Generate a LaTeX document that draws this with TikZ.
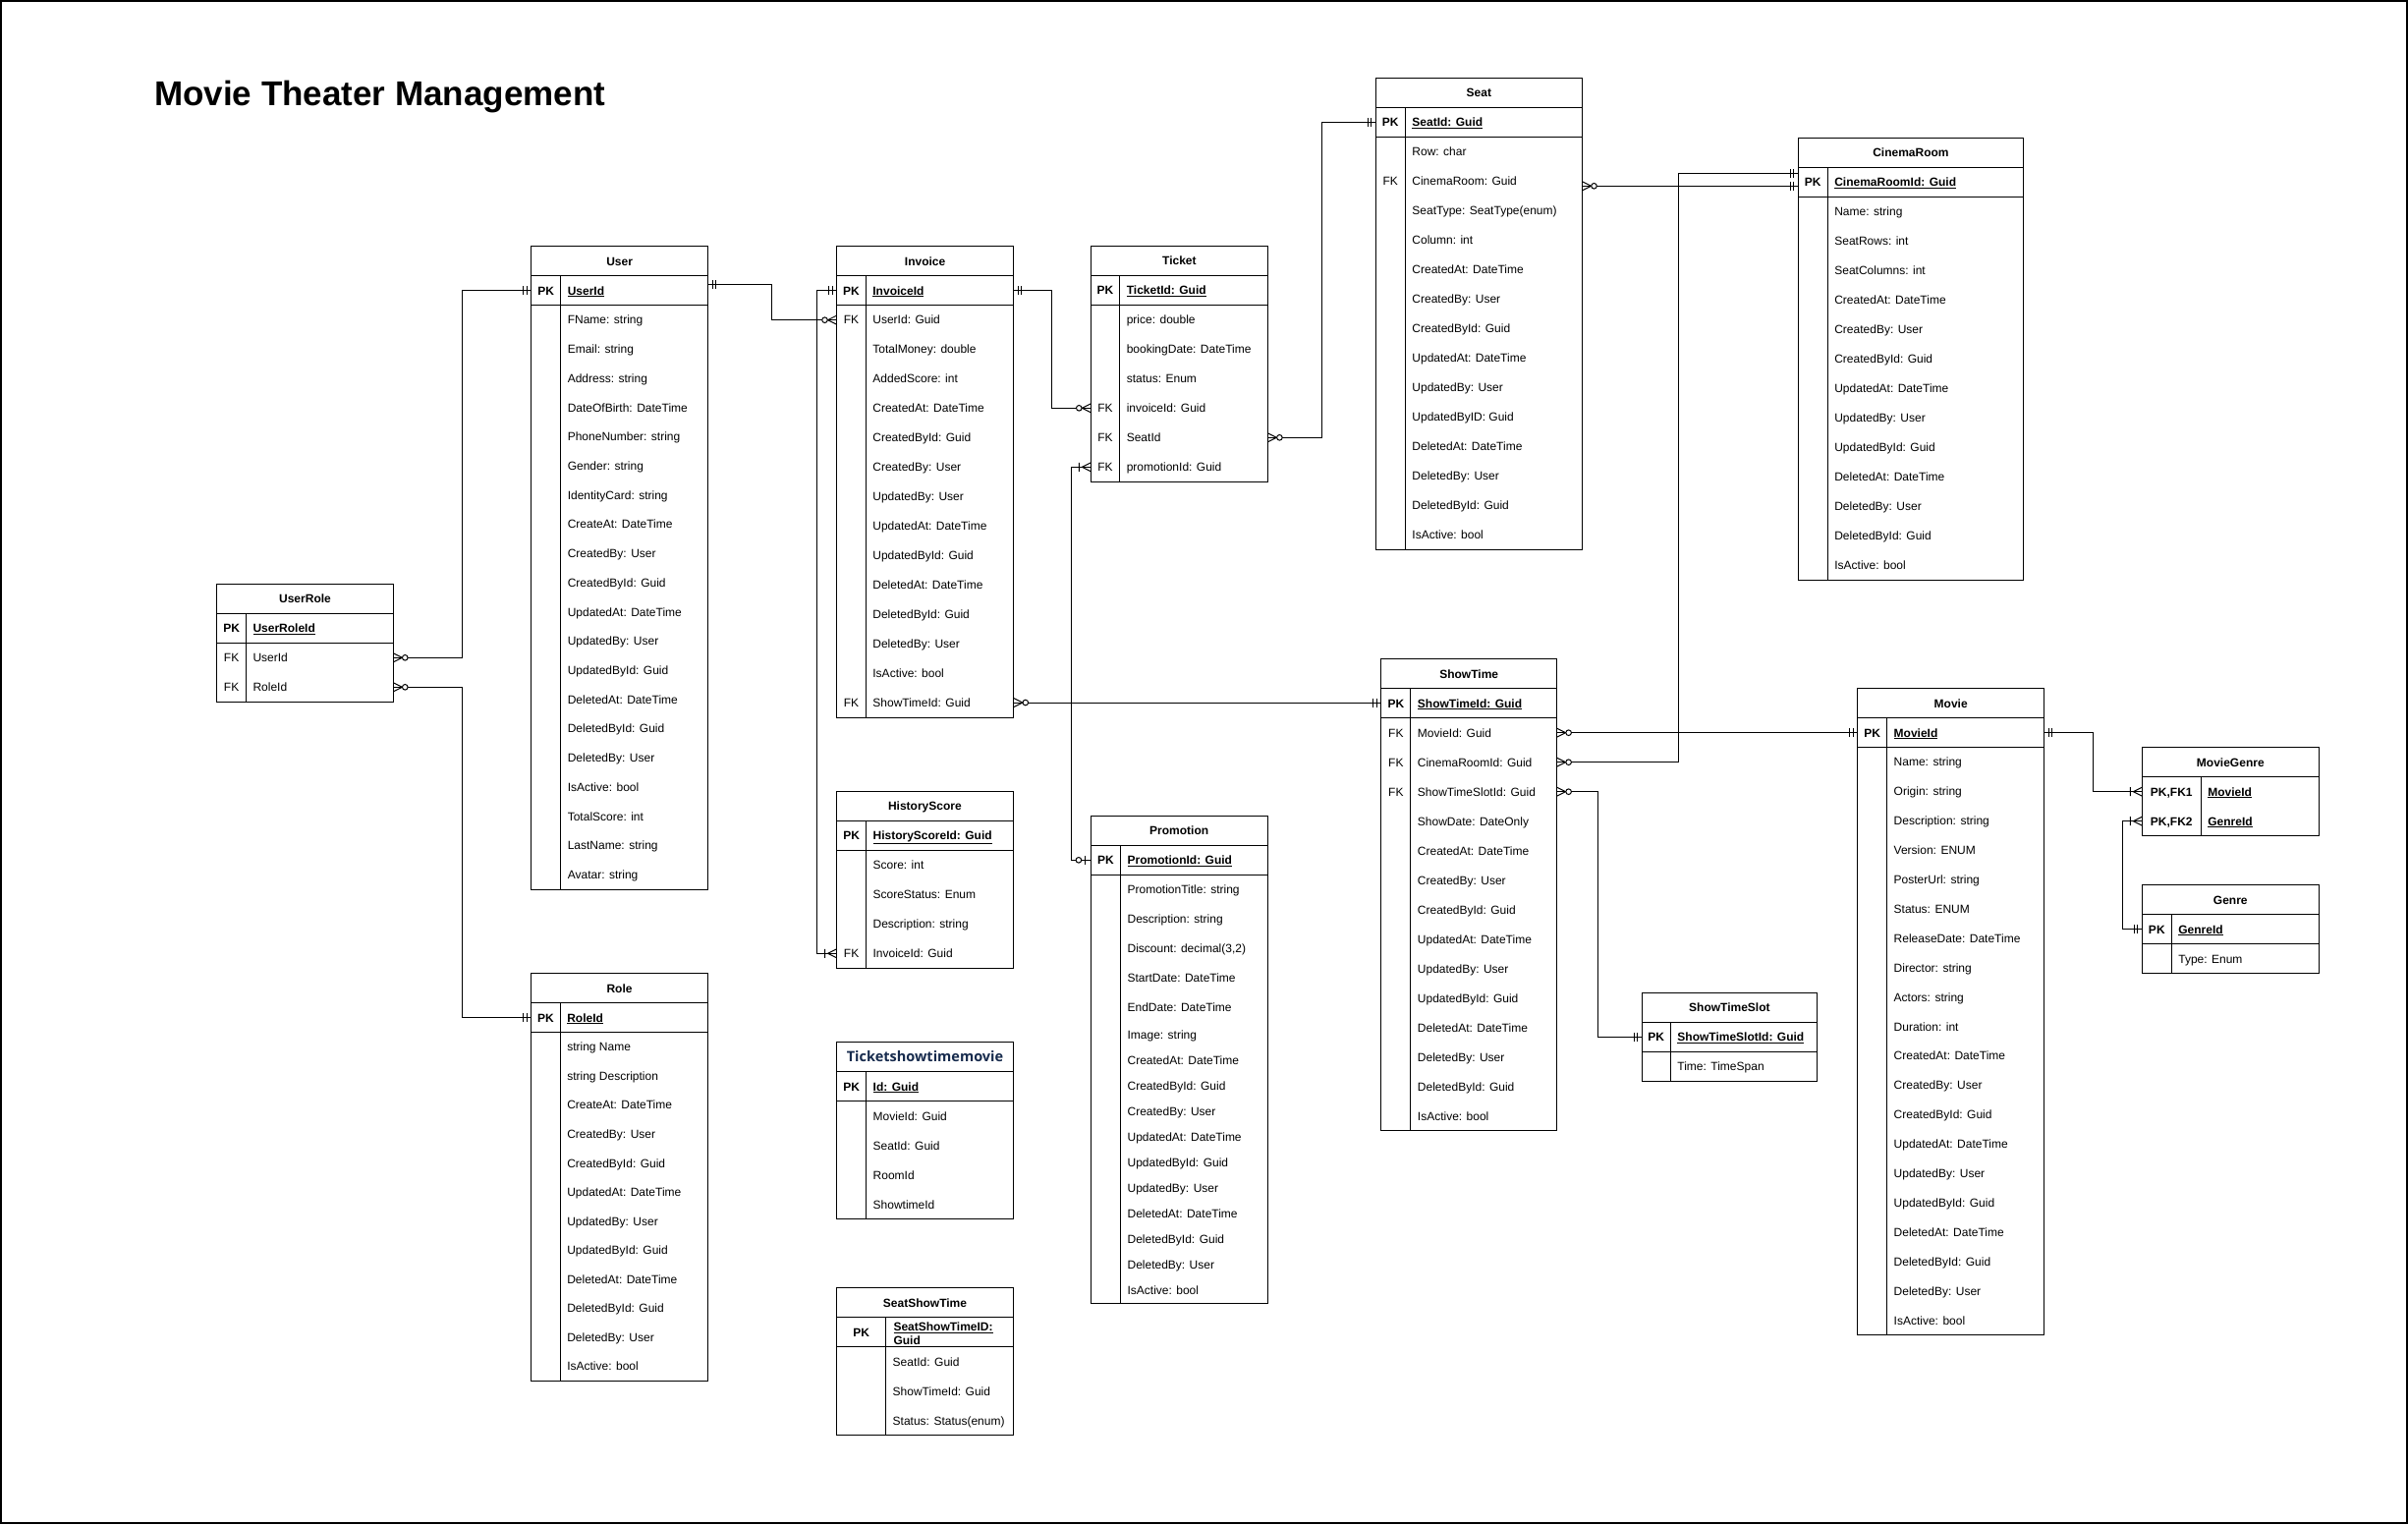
\documentclass[tikz,border=0pt]{standalone}
\usepackage{fontspec}
\setmainfont{Liberation Sans}
\newfontfamily\tsfont{Open Sans}
\usetikzlibrary{calc}
\definecolor{tsnavy}{RGB}{23,43,77}
\newcommand\rfont{\fontsize{12}{14}\selectfont}
\newcommand\bfont{\fontsize{12}{14}\selectfont\bfseries}
\tikzset{
  tbl/.style={draw=black, line width=1pt},
  cell/.style={inner sep=0pt, outer sep=0pt, text height=8.6pt, text depth=0pt},
  txt/.style={inner sep=0pt, outer sep=0pt, text height=8.6pt, text depth=0pt, font=\rfont},
  conn/.style={draw=black, line width=1pt},
  mone/.pic={\draw[line width=1pt] (-4.5,-4.5)--(-4.5,4.5) (-8,-4.5)--(-8,4.5);},
  zmany/.pic={\draw[line width=1pt] (0,-4.5)--(-9,0)--(0,4.5);
              \draw[line width=1pt,fill=white] (-12,0) circle (2.8);},
  omany/.pic={\draw[line width=1pt] (0,-4.5)--(-9,0)--(0,4.5) (-12,-4.5)--(-12,4.5);},
  zone/.pic={\draw[line width=1pt] (-6,-4.5)--(-6,4.5);
             \draw[line width=1pt,fill=white] (-12.5,0) circle (2.8);},
}
\newcommand\tgeom[5]{\def\Tx{#1}\def\Ty{#2}\def\Tw{#3}\def\Tk{#4}\def\Trh{#5}\def\Tsp{999}\def\Trhb{#5}}
\newcommand\ertable[5]{%
  \node[cell, minimum width=\Tw, minimum height=30, anchor=north west, font=\bfont] (#1-t) at (\Tx,\Ty) {#2};
  \node[cell, minimum width=\Tw, minimum height=30, anchor=north west] (#1-pk) at (\Tx,\Ty+30) {};
  \node[txt, font=\bfont] at (\Tx+\Tk/2,\Ty+45) {#3};
  \node[txt, anchor=west, font=\bfont] at (\Tx+\Tk+7,\Ty+45) {\underline{#4}};
  \foreach \k/\f [count=\i] in {#5}{%
    \pgfmathsetmacro\Trt{\Ty+60+min(\i-1,\Tsp)*\Trh+max(\i-1-\Tsp,0)*\Trhb}%
    \pgfmathsetmacro\Trhh{ifthenelse(\i>\Tsp,\Trhb,\Trh)}%
    \node[cell, minimum width=\Tw, minimum height=\Trhh, anchor=north west] (#1-\i) at (\Tx,\Trt) {};
    \node[txt] at (\Tx+\Tk/2,\Trt+\Trhh/2) {\k};
    \node[txt, anchor=west] at (\Tx+\Tk+7,\Trt+\Trhh/2) {\f};
    \pgfmathsetmacro\Trb{\Trt+\Trhh}\xdef\Tbot{\Trb}%
  }
  \draw[tbl] (\Tx,\Ty) rectangle (\Tx+\Tw,\Tbot);
  \draw[tbl] (\Tx,\Ty+30) -- ++(\Tw,0) (\Tx,\Ty+60) -- ++(\Tw,0) (\Tx+\Tk,\Ty+30) -- (\Tx+\Tk,\Tbot);
}
\begin{document}
\begin{tikzpicture}[x=1pt,y=-1pt]
\useasboundingbox (0,0) rectangle (2451,1551);
\draw[line width=2pt] (1,1) rectangle (2450,1550);
\node[anchor=base west, inner sep=0pt, font=\fontsize{35}{40}\selectfont\bfseries] (title) at (157,107) {Movie Theater Management};

% User
\tgeom{540.5}{250.7}{180.2}{30.3}{29.72}
\ertable{User}{User}{PK}{UserId}{/FName: string, /Email: string, /Address: string, /DateOfBirth: DateTime, /PhoneNumber: string, /Gender: string, /IdentityCard: string, /CreateAt: DateTime, /CreatedBy: User, /CreatedById: Guid, /UpdatedAt: DateTime, /UpdatedBy: User, /UpdatedById: Guid, /DeletedAt: DateTime, /DeletedById: Guid, /DeletedBy: User, /IsActive: bool, /TotalScore: int, /LastName: string, /Avatar: string}

% UserRole
\tgeom{220.7}{594.3}{179.6}{29.8}{30}
\ertable{UserRole}{UserRole}{PK}{UserRoleId}{FK/UserId, FK/RoleId}

% Role
\tgeom{540.7}{990.7}{179.6}{29.6}{29.56}
\ertable{Role}{Role}{PK}{RoleId}{/string Name, /string Description, /CreateAt: DateTime, /CreatedBy: User, /CreatedById: Guid, /UpdatedAt: DateTime, /UpdatedBy: User, /UpdatedById: Guid, /DeletedAt: DateTime, /DeletedById: Guid, /DeletedBy: User, /IsActive: bool}

% Invoice
\tgeom{851.5}{250.7}{180.3}{29.9}{29.95}
\ertable{Invoice}{Invoice}{PK}{InvoiceId}{FK/UserId: Guid, /TotalMoney: double, /AddedScore: int, /CreatedAt: DateTime, /CreatedById: Guid, /CreatedBy: User, /UpdatedBy: User, /UpdatedAt: DateTime, /UpdatedById: Guid, /DeletedAt: DateTime, /DeletedById: Guid, /DeletedBy: User, /IsActive: bool, FK/ShowTimeId: Guid}

% HistoryScore
\tgeom{851.6}{805.3}{179.6}{30}{30}
\ertable{HistoryScore}{HistoryScore}{PK}{HistoryScoreId: Guid}{/Score: int, /ScoreStatus: Enum, /Description: string, FK/InvoiceId: Guid}

% Ticketshowtimemovie
\tgeom{851.7}{1060.7}{179.6}{30}{30}
\ertable{TSM}{{\tsfont\bfseries\fontsize{14.5}{16}\selectfont\color{tsnavy}Ticketshowtimemovie}}{PK}{Id: Guid}{/MovieId: Guid, /SeatId: Guid, /RoomId, /ShowtimeId}

% SeatShowTime
\tgeom{851.7}{1310.7}{179.6}{50}{30}
\ertable{SeatShowTime}{SeatShowTime}{PK}{}{/SeatId: Guid, /ShowTimeId: Guid, /Status: Status(enum)}
\node[inner sep=0pt, anchor=north west, align=left, font=\bfont\fontsize{12}{13.4}\selectfont] (SST-pkf) at (909.3,1346) {\underline{SeatShowTimeID:}\\\underline{Guid}};

% Ticket
\tgeom{1110.3}{250.3}{180.1}{29.5}{30}
\ertable{Ticket}{Ticket}{PK}{TicketId: Guid}{/price: double, /bookingDate: DateTime, /status: Enum, FK/invoiceId: Guid, FK/SeatId, FK/promotionId: Guid}

% Promotion
\tgeom{1110.4}{830.3}{179.6}{30.2}{30}\def\Tsp{5}\def\Trhb{26}
\ertable{Promotion}{Promotion}{PK}{PromotionId: Guid}{/PromotionTitle: string, /Description: string, /{Discount: decimal(3,2)}, /StartDate: DateTime, /EndDate: DateTime, /Image: string, /CreatedAt: DateTime, /CreatedById: Guid, /CreatedBy: User, /UpdatedAt: DateTime, /UpdatedById: Guid, /UpdatedBy: User, /DeletedAt: DateTime, /DeletedById: Guid, /DeletedBy: User, /IsActive: bool}

% Seat
\tgeom{1400.2}{79.3}{210.3}{30.2}{30}
\ertable{Seat}{Seat}{PK}{SeatId: Guid}{/Row: char, FK/CinemaRoom: Guid, /SeatType: SeatType(enum), /Column: int, /CreatedAt: DateTime, /CreatedBy: User, /CreatedById: Guid, /UpdatedAt: DateTime, /UpdatedBy: User, /UpdatedByID: Guid, /DeletedAt: DateTime, /DeletedBy: User, /DeletedById: Guid, /IsActive: bool}

% CinemaRoom
\tgeom{1830.1}{140.3}{229.7}{30.2}{30}
\ertable{CinemaRoom}{CinemaRoom}{PK}{CinemaRoomId: Guid}{/Name: string, /SeatRows: int, /SeatColumns: int, /CreatedAt: DateTime, /CreatedBy: User, /CreatedById: Guid, /UpdatedAt: DateTime, /UpdatedBy: User, /UpdatedById: Guid, /DeletedAt: DateTime, /DeletedBy: User, /DeletedById: Guid, /IsActive: bool}

% ShowTime
\tgeom{1405.8}{670.7}{178.8}{30.1}{30}
\ertable{ShowTime}{ShowTime}{PK}{ShowTimeId: Guid}{FK/MovieId: Guid, FK/CinemaRoomId: Guid, FK/ShowTimeSlotId: Guid, /ShowDate: DateOnly, /CreatedAt: DateTime, /CreatedBy: User, /CreatedById: Guid, /UpdatedAt: DateTime, /UpdatedBy: User, /UpdatedById: Guid, /DeletedAt: DateTime, /DeletedBy: User, /DeletedById: Guid, /IsActive: bool}

% ShowTimeSlot
\tgeom{1671}{1010.3}{178.8}{29.4}{30}
\ertable{ShowTimeSlot}{ShowTimeSlot}{PK}{ShowTimeSlotId: Guid}{/Time: TimeSpan}

% Movie
\tgeom{1890.7}{700.7}{190}{30}{29.9}
\ertable{Movie}{Movie}{PK}{MovieId}{/Name: string, /Origin: string, /Description: string, /Version: ENUM, /PosterUrl: string, /Status: ENUM, /ReleaseDate: DateTime, /Director: string, /Actors: string, /Duration: int, /CreatedAt: DateTime, /CreatedBy: User, /CreatedById: Guid, /UpdatedAt: DateTime, /UpdatedBy: User, /UpdatedById: Guid, /DeletedAt: DateTime, /DeletedById: Guid, /DeletedBy: User, /IsActive: bool}

% Genre
\tgeom{2180.3}{900.7}{180}{30}{30}
\ertable{Genre}{Genre}{PK}{GenreId}{/Type: Enum}

% MovieGenre (two key rows)
\node[cell, minimum width=180, minimum height=30, anchor=north west, font=\bfont] (MovieGenre-t) at (2180.3,760.7) {MovieGenre};
\node[cell, minimum width=180, minimum height=30, anchor=north west] (MovieGenre-1) at (2180.3,790.7) {};
\node[cell, minimum width=180, minimum height=30, anchor=north west] (MovieGenre-2) at (2180.3,820.7) {};
\node[txt, font=\bfont] (MG-k1) at (2210.3,805.7) {PK,FK1};
\node[txt, font=\bfont] (MG-k2) at (2210.3,835.7) {PK,FK2};
\node[txt, font=\bfont, anchor=west] (MG-f1) at (2247.3,805.7) {\underline{MovieId}};
\node[txt, font=\bfont, anchor=west] (MG-f2) at (2247.3,835.7) {\underline{GenreId}};
\draw[tbl] (2180.3,760.7) rectangle (2360.3,850.7);
\draw[tbl] (2180.3,790.7) -- (2360.3,790.7) (2240.3,790.7) -- (2240.3,850.7);

% ---------- connectors ----------
\draw[conn] (UserRole-1.east) -- ++(70.2,0) |- (User-pk.west);
\draw[conn] (UserRole-2.east) -- ++(70.2,0) |- (Role-pk.west);
\draw[conn] ([yshift=6.5pt]User-pk.east) -- ++(64.8,0) |- (Invoice-1.west);
\draw[conn] (Invoice-pk.west) -- ++(-20.3,0) |- (HistoryScore-4.west);
\draw[conn] (Invoice-pk.east) -- ++(39,0) |- (Ticket-4.west);
\draw[conn] (Ticket-6.west) -- ++(-20.3,0) |- (Promotion-pk.west);
\draw[conn] (Invoice-14.east) -- (Invoice-14.east -| ShowTime-pk.west);
\draw[conn] (Ticket-5.east) -- ++(55,0) |- (Seat-pk.west);
\draw[conn] ([yshift=-5pt]Seat-2.east) -- ([yshift=-5pt]Seat-2.east -| CinemaRoom-pk.west);
\draw[conn] (ShowTime-2.east) -- ++(123.5,0) |- ([yshift=9pt]CinemaRoom-pk.west);
\draw[conn] (ShowTime-1.east) -- (ShowTime-1.east -| Movie-pk.west);
\draw[conn] (ShowTime-3.east) -- ++(42,0) |- (ShowTimeSlot-pk.west);
\draw[conn] (Movie-pk.east) -- ++(49.6,0) |- (MovieGenre-1.west);
\draw[conn] (Genre-pk.west) -- ++(-20,0) |- (MovieGenre-2.west);

% ---------- end marks ----------
\pic[rotate=180] at (UserRole-1.east) {zmany};
\pic at (User-pk.west) {mone};
\pic[rotate=180] at (UserRole-2.east) {zmany};
\pic at (Role-pk.west) {mone};
\pic[rotate=180] at ([yshift=6.5pt]User-pk.east) {mone};
\pic at (Invoice-1.west) {zmany};
\pic at (Invoice-pk.west) {mone};
\pic at (HistoryScore-4.west) {omany};
\pic[rotate=180] at (Invoice-pk.east) {mone};
\pic at (Ticket-4.west) {zmany};
\pic at (Ticket-6.west) {omany};
\pic at (Promotion-pk.west) {zone};
\pic[rotate=180] at (Invoice-14.east) {zmany};
\pic at (Invoice-14.east -| ShowTime-pk.west) {mone};
\pic[rotate=180] at (Ticket-5.east) {zmany};
\pic at (Seat-pk.west) {mone};
\pic[rotate=180] at ([yshift=-5pt]Seat-2.east) {zmany};
\pic at ([yshift=-5pt]Seat-2.east -| CinemaRoom-pk.west) {mone};
\pic[rotate=180] at (ShowTime-2.east) {zmany};
\pic at ([yshift=9pt]CinemaRoom-pk.west) {mone};
\pic[rotate=180] at (ShowTime-1.east) {zmany};
\pic at (ShowTime-1.east -| Movie-pk.west) {mone};
\pic[rotate=180] at (ShowTime-3.east) {zmany};
\pic at (ShowTimeSlot-pk.west) {mone};
\pic[rotate=180] at (Movie-pk.east) {mone};
\pic at (MovieGenre-1.west) {omany};
\pic at (Genre-pk.west) {mone};
\pic at (MovieGenre-2.west) {omany};
\end{tikzpicture}
\end{document}
